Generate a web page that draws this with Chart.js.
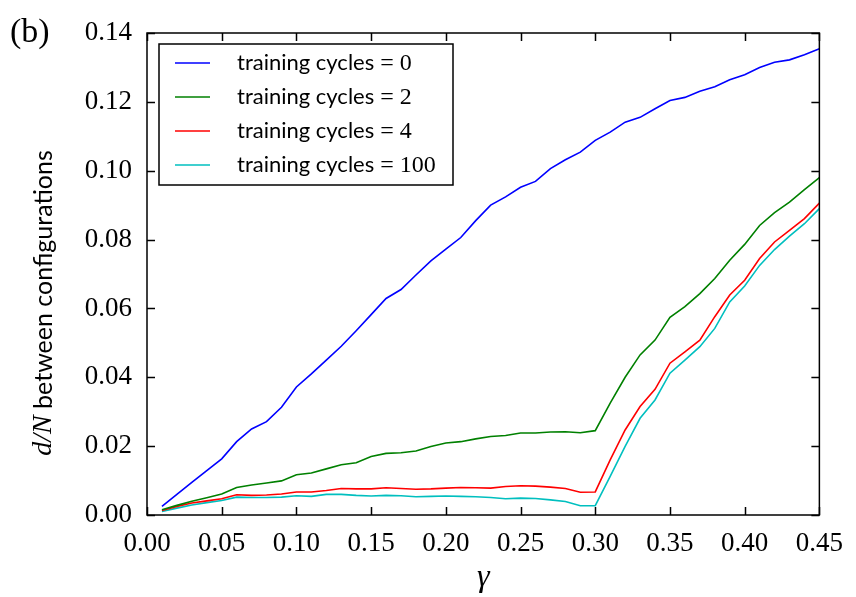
<!DOCTYPE html>
<html lang="en">
<head>
<meta charset="UTF-8">
<title>d/N between configurations</title>
<script src="https://cdn.jsdelivr.net/npm/chart.js"></script>
<style>
  html, body { margin: 0; padding: 0; background: #fff; }
</style>
</head>
<body>
<canvas id="distChart" width="856" height="597"></canvas>
<script>
const gamma = [0.01, 0.02, 0.03, 0.04, 0.05, 0.06, 0.07, 0.08, 0.09, 0.10,
  0.11, 0.12, 0.13, 0.14, 0.15, 0.16, 0.17, 0.18, 0.19, 0.20,
  0.21, 0.22, 0.23, 0.24, 0.25, 0.26, 0.27, 0.28, 0.29, 0.30,
  0.31, 0.32, 0.33, 0.34, 0.35, 0.36, 0.37, 0.38, 0.39, 0.40,
  0.41, 0.42, 0.43, 0.44, 0.45];

const cycles0 = [0.0025, 0.0060, 0.0095, 0.0129, 0.0163, 0.0213, 0.0250, 0.0271, 0.0313, 0.0372,
  0.0410, 0.0450, 0.0490, 0.0535, 0.0582, 0.0629, 0.0655, 0.0697, 0.0738, 0.0772,
  0.0806, 0.0855, 0.0900, 0.0924, 0.0952, 0.0969, 0.1006, 0.1032, 0.1054, 0.1088,
  0.1112, 0.1141, 0.1155, 0.1180, 0.1204, 0.1213, 0.1231, 0.1244, 0.1264, 0.1279,
  0.1300, 0.1315, 0.1322, 0.1337, 0.1354];

const cycles2 = [0.0015, 0.0028, 0.0040, 0.0050, 0.0061, 0.0080, 0.0087, 0.0093, 0.0099, 0.0117,
  0.0122, 0.0134, 0.0146, 0.0152, 0.0170, 0.0179, 0.0181, 0.0186, 0.0199, 0.0209,
  0.0213, 0.0221, 0.0228, 0.0231, 0.0238, 0.0238, 0.0241, 0.0242, 0.0239, 0.0245,
  0.0325, 0.0400, 0.0465, 0.0508, 0.0574, 0.0605, 0.0643, 0.0687, 0.0740, 0.0786,
  0.0841, 0.0878, 0.0909, 0.0945, 0.0980];

const cycles4 = [0.0013, 0.0025, 0.0035, 0.0041, 0.0047, 0.0059, 0.0057, 0.0058, 0.0061, 0.0067,
  0.0067, 0.0071, 0.0077, 0.0076, 0.0076, 0.0079, 0.0077, 0.0075, 0.0076, 0.0078,
  0.0080, 0.0079, 0.0078, 0.0083, 0.0085, 0.0084, 0.0081, 0.0077, 0.0066, 0.0067,
  0.0160, 0.0247, 0.0315, 0.0365, 0.0441, 0.0474, 0.0508, 0.0576, 0.0639, 0.0682,
  0.0745, 0.0793, 0.0827, 0.0861, 0.0906];

const cycles100 = [0.0010, 0.0020, 0.0029, 0.0036, 0.0042, 0.0052, 0.0051, 0.0051, 0.0052, 0.0056,
  0.0054, 0.0060, 0.0060, 0.0057, 0.0055, 0.0057, 0.0056, 0.0053, 0.0054, 0.0055,
  0.0054, 0.0053, 0.0051, 0.0047, 0.0049, 0.0048, 0.0044, 0.0039, 0.0027, 0.0027,
  0.0112, 0.0199, 0.0281, 0.0334, 0.0412, 0.0450, 0.0489, 0.0542, 0.0619, 0.0665,
  0.0725, 0.0771, 0.0810, 0.0846, 0.0890];

const cycleCounts = ['0', '2', '4', '100'];
const lineColors = ['#0000ff', '#008000', '#ff0000', '#00bfbf'];

const serif = '"Liberation Serif", "DejaVu Serif", serif';
const sans = 'Lato, "DejaVu Sans", sans-serif';

function pts(vals) {
  return gamma.map((g, i) => ({ x: g, y: vals[i] }));
}

// frame with inward ticks on all four sides, boxed legend, y title, panel tag
const decorations = {
  id: 'decorations',
  afterDatasetsDraw(chart) {
    const { ctx, chartArea: a, scales: { x, y } } = chart;
    ctx.save();
    ctx.strokeStyle = '#000';
    ctx.lineWidth = 1.5;
    ctx.strokeRect(a.left, a.top, a.right - a.left, a.bottom - a.top);
    ctx.beginPath();
    x.ticks.forEach(t => {
      const px = Math.round(x.getPixelForValue(t.value)) + 0.5;
      ctx.moveTo(px, a.bottom); ctx.lineTo(px, a.bottom - 8);
      ctx.moveTo(px, a.top); ctx.lineTo(px, a.top + 8);
    });
    y.ticks.forEach(t => {
      const py = Math.round(y.getPixelForValue(t.value)) + 0.5;
      ctx.moveTo(a.left, py); ctx.lineTo(a.left + 8, py);
      ctx.moveTo(a.right, py); ctx.lineTo(a.right - 8, py);
    });
    ctx.stroke();

    // legend
    const lx = a.left + 12, ly = a.top + 11;
    ctx.fillStyle = '#fff';
    ctx.fillRect(lx, ly, 294, 141);
    ctx.strokeRect(lx, ly, 294, 141);
    ctx.textBaseline = 'middle';
    ctx.textAlign = 'left';
    chart.data.datasets.forEach((ds, i) => {
      const cy = ly + 19 + i * 34;
      ctx.strokeStyle = ds.borderColor;
      ctx.lineWidth = 1.5;
      ctx.beginPath();
      ctx.moveTo(lx + 16, cy); ctx.lineTo(lx + 51, cy);
      ctx.stroke();
      ctx.fillStyle = '#000';
      ctx.font = '22px ' + sans;
      const word = 'training cycles';
      ctx.fillText(word, lx + 78, cy);
      const w = ctx.measureText(word).width;
      ctx.font = '24px ' + serif;
      ctx.fillText(' = ' + cycleCounts[i], lx + 78 + w, cy + 1);
    });

    // y axis title, mixed fonts
    ctx.save();
    ctx.translate(44, (a.top + a.bottom) / 2 + 29);
    ctx.rotate(-Math.PI / 2);
    ctx.fillStyle = '#000';
    ctx.textBaseline = 'middle';
    const p1 = 'd/N', p2 = ' between configurations';
    ctx.font = 'italic 28px ' + serif;
    const w1 = ctx.measureText(p1).width;
    ctx.font = '25px ' + sans;
    const w2 = ctx.measureText(p2).width;
    let sx = -(w1 + w2) / 2;
    ctx.font = 'italic 28px ' + serif;
    ctx.fillText(p1, sx, 0);
    ctx.font = '25px ' + sans;
    ctx.fillText(p2, sx + w1, 0);
    ctx.restore();

    // panel tag
    ctx.fillStyle = '#000';
    ctx.font = '34px ' + serif;
    ctx.textBaseline = 'middle';
    ctx.fillText('(b)', 10, a.top);
    ctx.restore();
  }
};

const ctx = document.getElementById('distChart').getContext('2d');
const distChart = new Chart(ctx, {
  type: 'line',
  data: {
    datasets: [cycles0, cycles2, cycles4, cycles100].map((vals, i) => ({
      label: 'training cycles = ' + cycleCounts[i],
      data: pts(vals),
      borderColor: lineColors[i],
      borderWidth: 1.6,
      pointRadius: 0,
      tension: 0,
      fill: false
    }))
  },
  options: {
    responsive: false,
    animation: false,
    layout: { padding: { left: 0, top: 33, right: 34, bottom: 0 } },
    plugins: {
      legend: { display: false },
      tooltip: { enabled: false }
    },
    scales: {
      x: {
        type: 'linear',
        min: 0,
        max: 0.45,
        grid: { display: false, drawTicks: false },
        border: { display: false },
        ticks: {
          stepSize: 0.05,
          padding: 13,
          color: '#000',
          font: { family: serif, size: 27 },
          maxRotation: 0,
          callback: v => v.toFixed(2)
        },
        title: {
          display: true,
          text: 'γ',
          color: '#000',
          font: { family: serif, size: 32, style: 'italic' },
          padding: { top: 0, bottom: 0 }
        },
        afterFit: s => { s.height = 82; }
      },
      y: {
        min: 0,
        max: 0.14,
        grid: { display: false, drawTicks: false },
        border: { display: false },
        ticks: {
          stepSize: 0.02,
          padding: 15,
          color: '#000',
          font: { family: serif, size: 27 },
          callback: v => v.toFixed(2)
        },
        afterFit: s => { s.width = 147; }
      }
    }
  },
  plugins: [decorations]
});
</script>
</body>
</html>
